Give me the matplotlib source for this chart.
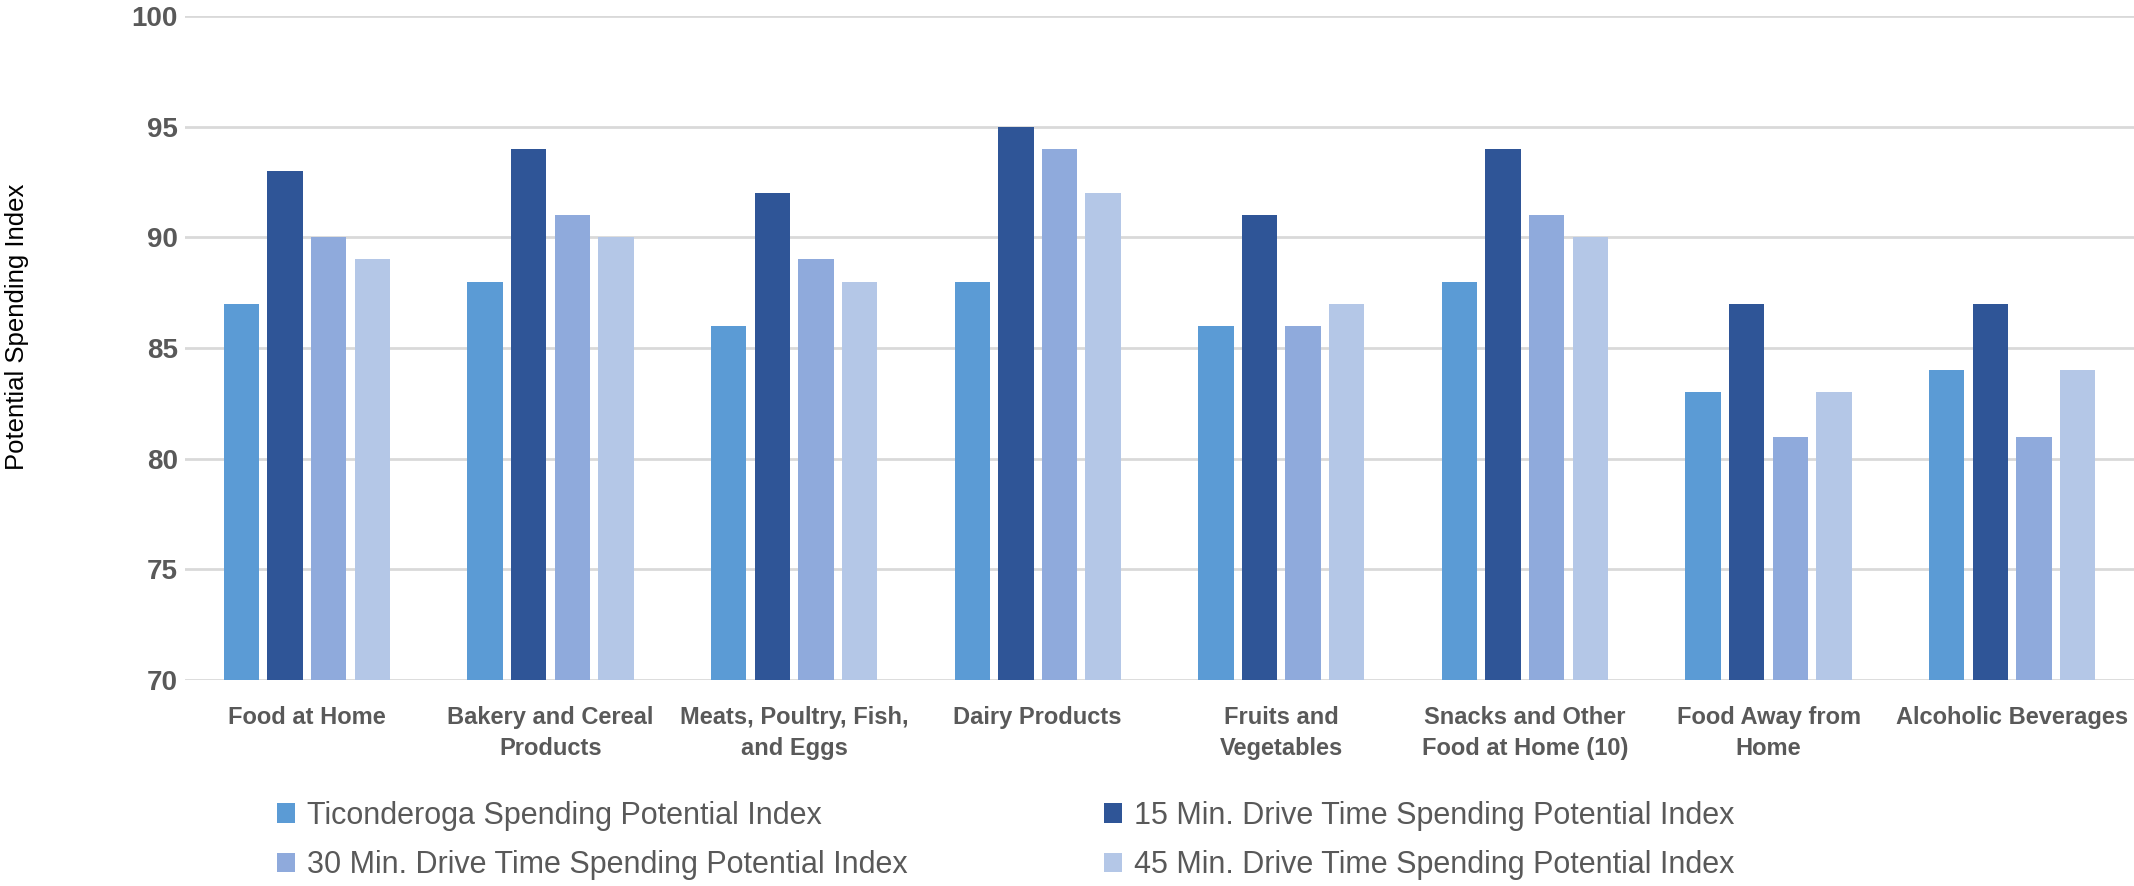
import matplotlib.pyplot as plt
import numpy as np
from matplotlib import font_manager

categories = ["Food at Home", "Bakery and Cereal\nProducts", "Meats, Poultry, Fish,\nand Eggs",
              "Dairy Products", "Fruits and\nVegetables", "Snacks and Other\nFood at Home (10)",
              "Food Away from\nHome", "Alcoholic Beverages"]

ticonderoga = [87, 88, 86, 88, 86, 88, 83, 84]
drive_15 = [93, 94, 92, 95, 91, 94, 87, 87]
drive_30 = [90, 91, 89, 94, 86, 91, 81, 81]
drive_45 = [89, 90, 88, 92, 87, 90, 83, 84]

series_names = ["Ticonderoga Spending Potential Index",
                "15 Min. Drive Time Spending Potential Index",
                "30 Min. Drive Time Spending Potential Index",
                "45 Min. Drive Time Spending Potential Index"]
colors = ["#5B9BD5", "#2F5597", "#8FAADC", "#B4C7E7"]

installed = {f.name for f in font_manager.fontManager.ttflist}
narrow = "Liberation Sans Narrow" if "Liberation Sans Narrow" in installed else "Liberation Sans"
text_gray = "#595959"

fig = plt.figure(figsize=(21.34, 8.86), dpi=100)
ax = fig.add_axes([0.0867, 0.2325, 0.9133, 0.7495])

x = np.arange(len(categories))
width = 0.145
pitch = 0.179
bars = []
for i, (vals, c) in enumerate(zip([ticonderoga, drive_15, drive_30, drive_45], colors)):
    b = ax.bar(x + (i - 1.5) * pitch, vals, width, color=c, zorder=3, label=series_names[i])
    bars.append(b)

ax.set_ylim(70, 100)
ax.set_xlim(-0.5, len(categories) - 0.5)
ax.set_yticks(np.arange(70, 101, 5))
ax.yaxis.grid(True, color="#D9D9D9", linewidth=2, zorder=0)
for s in ax.spines.values():
    s.set_visible(False)
ax.tick_params(axis="both", length=0)
ax.tick_params(axis="y", pad=5)
ax.tick_params(axis="x", pad=19)

ax.set_xticks(x)
ax.set_xticklabels(categories, fontfamily=narrow, fontweight="bold", fontsize=17,
                   color=text_gray, linespacing=1.4)
for lbl in ax.get_yticklabels():
    lbl.set_fontfamily(narrow)
    lbl.set_fontweight("bold")
    lbl.set_fontsize(20)
    lbl.set_color(text_gray)

fig.text(0.0078, 0.631, "Potential Spending Index", rotation=90, fontfamily="Liberation Sans",
         fontsize=18.5, color="black", ha="center", va="center")

order = [0, 2, 1, 3]
leg = fig.legend([bars[i] for i in order], [series_names[i] for i in order], ncol=2,
                 loc="upper left", bbox_to_anchor=(0.124, 0.11), frameon=False,
                 prop={"family": narrow, "size": 22}, labelcolor=text_gray,
                 handlelength=0.6, handleheight=0.6, handletextpad=0.4,
                 columnspacing=6.4, labelspacing=0.63, borderaxespad=0)

fig.savefig("out.png", dpi=100)
